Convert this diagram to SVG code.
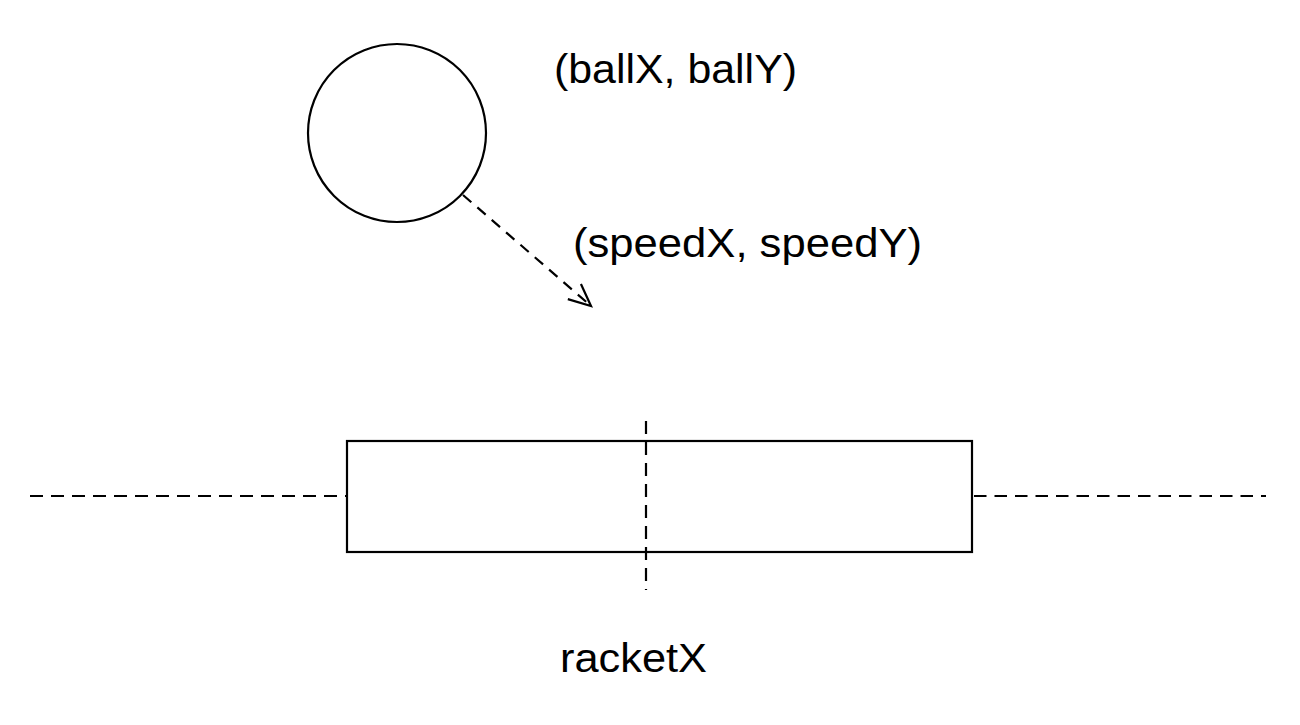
<svg xmlns="http://www.w3.org/2000/svg" width="1300" height="725" viewBox="0 0 1300 725">
<style>
.s{fill:none;stroke:#000;stroke-width:2.2}
.d{fill:none;stroke:#000;stroke-width:2.2;stroke-dasharray:13 8}
.t{font-family:"Liberation Sans",Arial,sans-serif;font-size:41px;fill:#000}
</style>
<defs>
<marker id="arr" markerWidth="30" markerHeight="30" refX="24" refY="12" orient="auto" markerUnits="userSpaceOnUse">
<path d="M2,2 L24,12 L2,22" fill="none" stroke="#000" stroke-width="2.2"/>
</marker>
</defs>
<rect width="1300" height="725" fill="#fff"/>
<g id="connectors">
<line class="d" x1="30" y1="496" x2="347" y2="496"/>
<line class="d" x1="974" y1="496" x2="1266" y2="496" style="stroke-dasharray:12.5 8"/>
<line class="d" x1="646" y1="421" x2="646" y2="590"/>
<line class="d" x1="463" y1="195" x2="591" y2="306" marker-end="url(#arr)" style="stroke-dasharray:11 8"/>
</g>
<g id="ball">
<circle class="s" cx="397" cy="133" r="89"/>
</g>
<g id="racket">
<rect class="s" x="347" y="441" width="625" height="111"/>
</g>
<g id="labels">
<text class="t" x="554" y="83" textLength="243" lengthAdjust="spacingAndGlyphs">(ballX, ballY)</text>
<text class="t" x="573" y="257" textLength="349" lengthAdjust="spacingAndGlyphs">(speedX, speedY)</text>
<text class="t" x="560" y="672" textLength="147" lengthAdjust="spacingAndGlyphs">racketX</text>
</g>
</svg>
